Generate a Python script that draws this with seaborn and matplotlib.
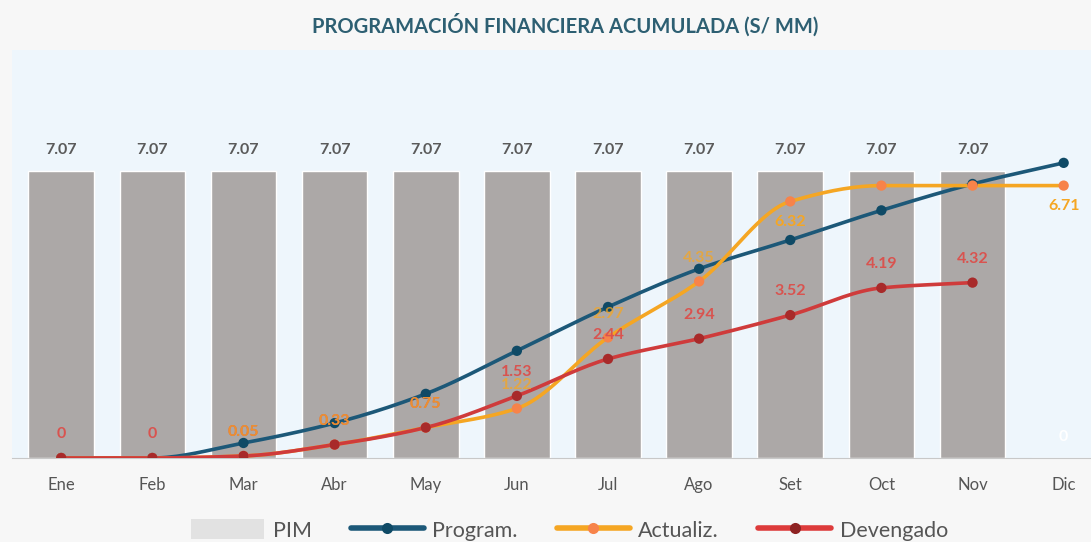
import numpy as np
import pandas as pd
import matplotlib
matplotlib.use('Agg')
import matplotlib.pyplot as plt
from matplotlib.patches import Patch
from matplotlib.lines import Line2D
import seaborn as sns

meses = ['Ene', 'Feb', 'Mar', 'Abr', 'May', 'Jun', 'Jul', 'Ago', 'Set', 'Oct', 'Nov', 'Dic']
pim = [7.07, 7.07, 7.07, 7.07, 7.07, 7.07, 7.07, 7.07, 7.07, 7.07, 7.07, 0]
program = [0, 0, 0.37, 0.86, 1.58, 2.64, 3.72, 4.66, 5.37, 6.10, 6.75, 7.27]
actualiz = [0, 0, 0.05, 0.33, 0.75, 1.22, 2.97, 4.35, 6.32, 6.71, 6.71, 6.71]
devengado = [0, 0, 0.05, 0.33, 0.75, 1.53, 2.44, 2.94, 3.52, 4.19, 4.32]

C_BLUE = '#1c5878'
C_ORANGE = '#f5a623'
C_RED = '#cf3b3b'
C_BAR = '#aca8a7'

sns.set_style('white')
plt.rcParams['font.family'] = ['Lato', 'DejaVu Sans']


def smooth(y, n=20):
    # monotone cubic (Fritsch-Carlson) just for drawing the curve
    y = np.asarray(y, float)
    x = np.arange(len(y), dtype=float)
    d = np.diff(y)
    m = np.zeros(len(y))
    m[0], m[-1] = d[0], d[-1]
    for i in range(1, len(y) - 1):
        if d[i - 1] * d[i] > 0:
            m[i] = 2 / (1 / d[i - 1] + 1 / d[i])
    xs, ys = [], []
    for i in range(len(y) - 1):
        t = np.linspace(0, 1, n)
        h00 = 2 * t**3 - 3 * t**2 + 1
        h10 = t**3 - 2 * t**2 + t
        h01 = -2 * t**3 + 3 * t**2
        h11 = t**3 - t**2
        xs.append(x[i] + t)
        ys.append(h00 * y[i] + h10 * m[i] + h01 * y[i + 1] + h11 * m[i + 1])
    return np.concatenate(xs), np.concatenate(ys)


fig = plt.figure(figsize=(10.91, 5.42), dpi=100)
fig.patch.set_facecolor('#f7f7f7')
ax = fig.add_axes([12 / 1091, 84 / 542, 1079 / 1091, 408 / 542])
ax.set_facecolor('#eef6fc')

df = pd.DataFrame({'mes': meses, 'pim': pim})
sns.barplot(data=df, x='mes', y='pim', color=C_BAR, saturation=1, width=0.72, ax=ax)
for i, v in enumerate(pim):
    ax.annotate(f'{v:.2f}' if v > 0 else '0', (i, v), xytext=(0, 10), textcoords='offset points',
                ha='center', va='bottom', fontsize=11.5, fontweight='bold',
                color='#5a5a5a' if v > 0 else 'white')

series = [(program, C_BLUE, '#0f4a66'), (actualiz, C_ORANGE, '#f7834a'), (devengado, C_RED, '#a82a2a')]
for vals, col, mcol in series:
    xs, ys = smooth(vals)
    ax.plot(xs, ys, color=col, lw=2.6, zorder=3, solid_capstyle='round')
    sns.scatterplot(x=np.arange(len(vals)), y=vals, color=mcol, s=55, edgecolor='none', zorder=4, ax=ax)

# devengado labels
for i, v in enumerate(devengado):
    lbl = '0' if v == 0 else f'{v:.2f}'
    ax.annotate(lbl, (i, v), xytext=(0, 12), textcoords='offset points', ha='center',
                va='bottom', fontsize=11.5, fontweight='bold', color='#d9534f', zorder=5)
# actualiz labels
above = {2: 12, 3: 12, 4: 12, 5: 12, 6: 12, 7: 12}
below = {8: -10, 11: -10}
for i, v in enumerate(actualiz):
    if i in above:
        ax.annotate(f'{v:.2f}', (i, v), xytext=(0, above[i]), textcoords='offset points',
                    ha='center', va='bottom', fontsize=11.5, fontweight='bold', color=C_ORANGE,
                    alpha=0.75, zorder=5)
    elif i in below:
        ax.annotate(f'{v:.2f}', (i, v), xytext=(0, below[i]), textcoords='offset points',
                    ha='center', va='top', fontsize=11.5, fontweight='bold', color=C_ORANGE, zorder=5)

ax.set_xlim(-0.54, 11.3)
ax.set_ylim(0, 10.05)
ax.set_xlabel('')
ax.set_ylabel('')
ax.set_yticks([])
ax.tick_params(axis='x', length=0, pad=14, labelsize=12, labelcolor='#555555')
for s in ['top', 'right', 'left']:
    ax.spines[s].set_visible(False)
ax.spines['bottom'].set_color('#c8c8c8')

fig.text(0.518, 1 - 25 / 542, 'PROGRAMACIÓN FINANCIERA ACUMULADA (S/ MM)', ha='center', va='center',
         fontsize=14.5, fontweight='bold', color='#2d5f72')

handles = [
    Patch(facecolor='#e2e2e2', edgecolor='none'),
    Line2D([], [], color=C_BLUE, lw=4, marker='o', markersize=8, markerfacecolor='#0f4a66', markeredgecolor='none'),
    Line2D([], [], color=C_ORANGE, lw=4, marker='o', markersize=8, markerfacecolor='#f7834a', markeredgecolor='none'),
    Line2D([], [], color='#dd3b3b', lw=4, marker='o', markersize=8, markerfacecolor='#8e2323', markeredgecolor='none'),
]
leg = fig.legend(handles, ['PIM', 'Program.', 'Actualiz.', 'Devengado'], loc='center',
                 bbox_to_anchor=(0.522, 1 - 530 / 542), ncol=4, frameon=False, fontsize=15.5,
                 handlelength=3.4, handleheight=1.0, handletextpad=0.4, columnspacing=1.8)
for t in leg.get_texts():
    t.set_color('#555555')

fig.savefig('out.png', dpi=100, facecolor=fig.get_facecolor())
